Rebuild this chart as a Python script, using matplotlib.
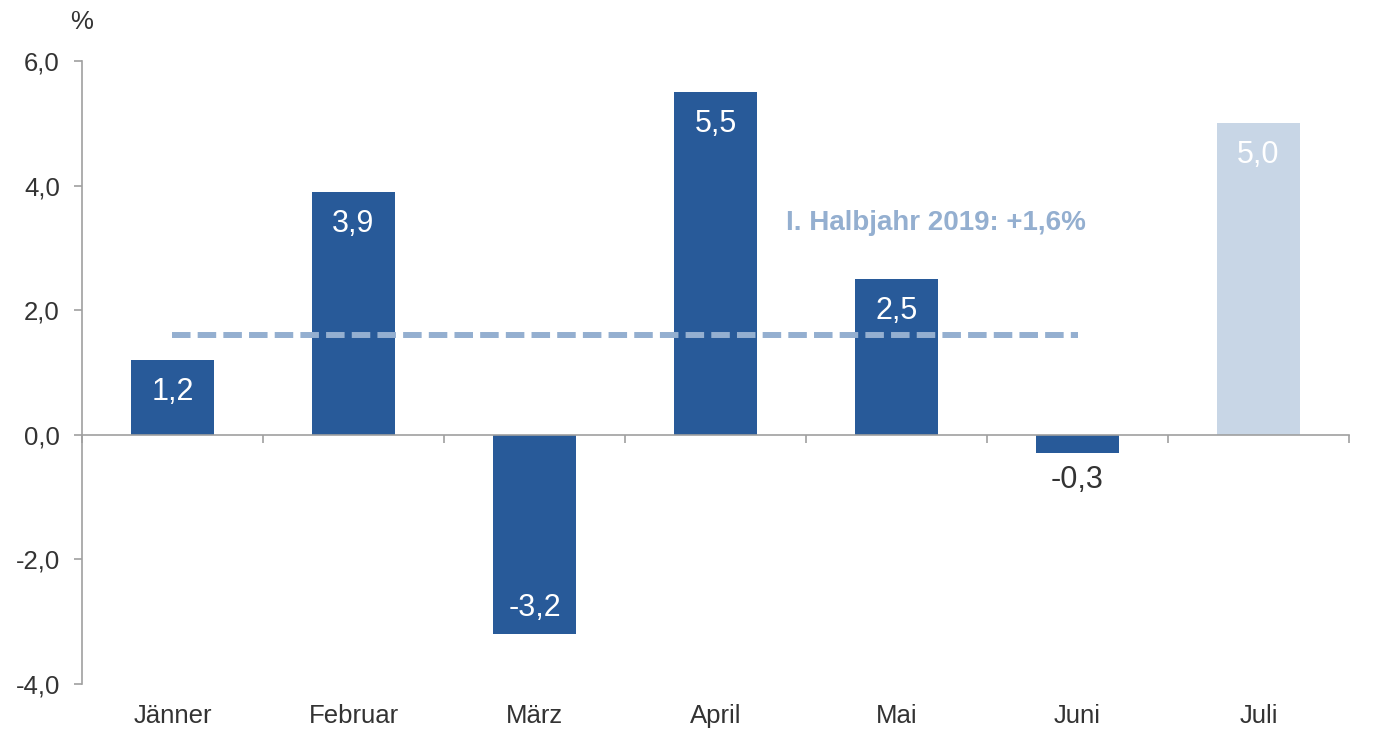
import numpy as np
import matplotlib.pyplot as plt
from matplotlib.ticker import FuncFormatter

months = ['Jänner', 'Februar', 'März', 'April', 'Mai', 'Juni', 'Juli']
values = [1.2, 3.9, -3.2, 5.5, 2.5, -0.3, 5.0]
is_prelim = [False, False, False, False, False, False, True]
half_year_avg = 1.6
half_year_label = 'I. Halbjahr 2019: +1,6%'

dark_blue = '#285A99'
light_blue = '#C8D6E6'
line_blue = '#94AFD0'
axis_gray = '#A0A0A0'
text_dark = '#333333'

plt.rcParams['font.family'] = ['Liberation Sans', 'DejaVu Sans']

fig = plt.figure(figsize=(13.78, 7.32), dpi=100)
ax = fig.add_axes([0.0595, 0.0656, 0.9195, 0.8511])

x = np.arange(len(months))
colors = [light_blue if p else dark_blue for p in is_prelim]
ax.bar(x, values, width=0.455, color=colors, zorder=2)

# half-year average, Jänner..Juni
first_half = [i for i, p in enumerate(is_prelim) if not p]
ax.plot([first_half[0], first_half[-1]], [half_year_avg, half_year_avg],
        color=line_blue, lw=4.3, dashes=(3.1, 1.2), zorder=3)
ax.text(4.22, 3.4, half_year_label, color=line_blue, fontsize=20,
        fontweight='bold', ha='center', va='center')

def fmt(v):
    return f'{v:.1f}'.replace('.', ',')

for xi, v in zip(x, values):
    if v >= 0:
        ax.annotate(fmt(v), (xi, v), xytext=(0, -23), textcoords='offset points',
                    ha='center', va='center', color='white', fontsize=22)
    elif v < -1:
        ax.annotate(fmt(v), (xi, v), xytext=(0, 19), textcoords='offset points',
                    ha='center', va='center', color='white', fontsize=22)
    else:
        ax.annotate(fmt(v), (xi, v), xytext=(0, -19), textcoords='offset points',
                    ha='center', va='center', color=text_dark, fontsize=22)

ax.set_xlim(-0.5, len(months) - 0.5)
ax.set_ylim(-4, 6)
ax.set_yticks(np.arange(-4, 6.1, 2))
ax.yaxis.set_major_formatter(FuncFormatter(lambda v, p: fmt(v)))

for s in ['top', 'right']:
    ax.spines[s].set_visible(False)
ax.spines['bottom'].set_position(('data', 0))
for s in ['left', 'bottom']:
    ax.spines[s].set_color(axis_gray)
    ax.spines[s].set_linewidth(1.2)

ax.set_xticks(x)
ax.set_xticklabels([])
ax.tick_params(axis='x', which='major', length=0)
ax.set_xticks(np.arange(-0.5, len(months)), minor=True)
ax.tick_params(axis='x', which='minor', direction='out', length=6,
               color=axis_gray, width=1.2)
ax.tick_params(axis='y', direction='out', length=6, color=axis_gray, width=1.2,
               labelsize=18.5, labelcolor=text_dark, pad=10)

for xi, m in zip(x, months):
    ax.text(xi, -0.052, m, transform=ax.get_xaxis_transform(), ha='center',
            va='center', fontsize=18.5, color=text_dark)

ax.text(0.0, 1.062, '%', transform=ax.transAxes, ha='center', va='center',
        fontsize=18.5, color=text_dark)

fig.savefig('out.png', dpi=100)
